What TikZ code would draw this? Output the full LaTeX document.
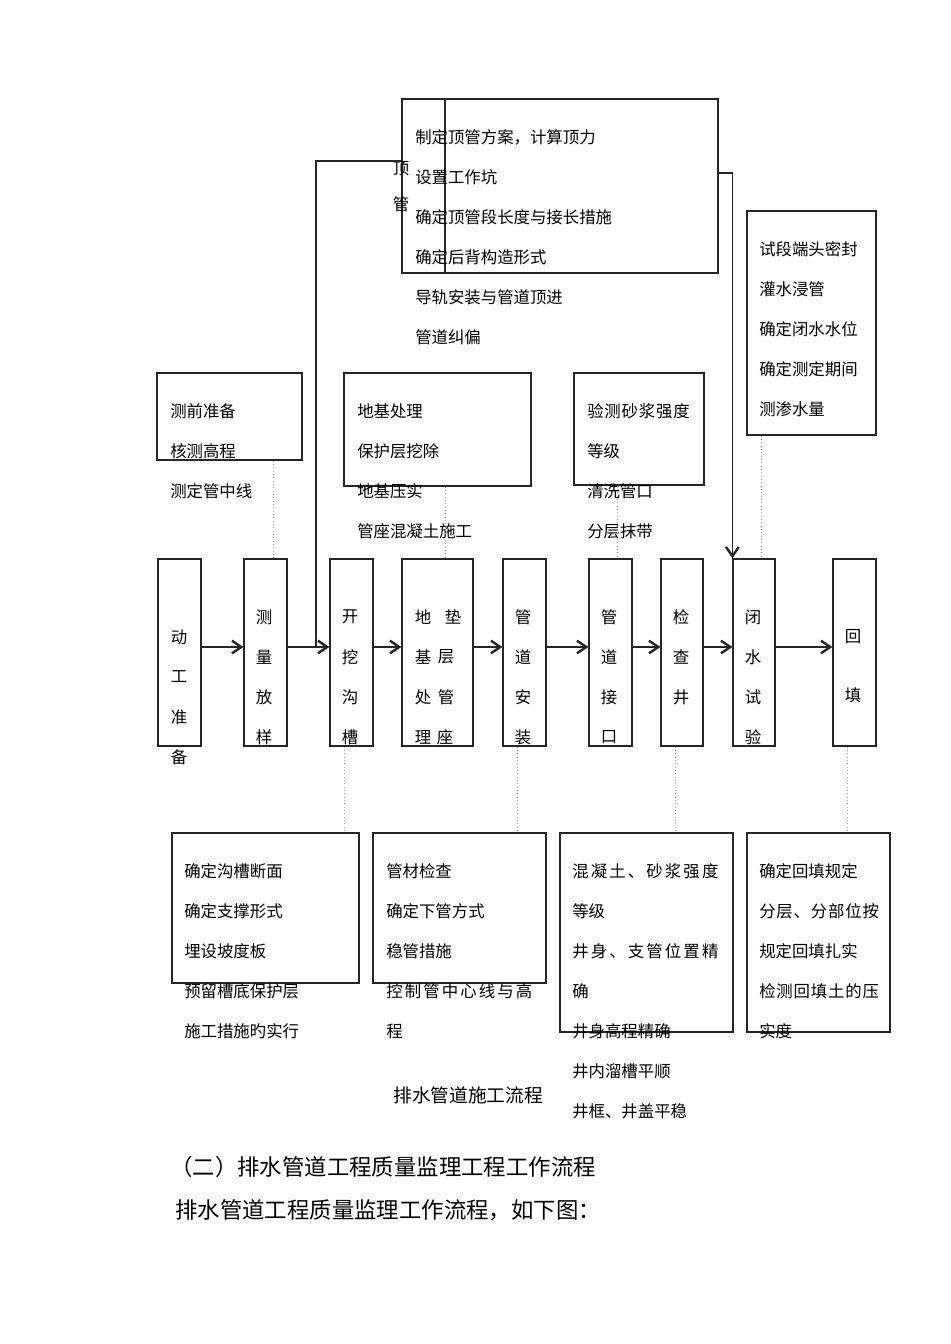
\documentclass[tikz,border=0pt]{standalone}
\usepackage{fontspec}
\setmainfont{Noto Sans CJK SC}
\newfontfamily\cjksp[LetterSpace=13]{Noto Sans CJK SC}
\newfontfamily\cjkspb[LetterSpace=5]{Noto Sans CJK SC}
\usetikzlibrary{fit,arrows.meta}
\tikzset{
  box/.style={draw=black!85, line width=0.9pt, inner sep=0pt},
  ln/.style={draw=black!85, line width=0.9pt},
  arr/.style={draw=black!85, line width=0.9pt, -{Straight Barb[length=7pt,width=9.5pt,line width=1.8pt]}},
  dot/.style={draw=gray!70, dotted, line width=0.5pt},
  txt/.style={anchor=west, inner sep=0pt, font=\fontsize{12.3pt}{14pt}\selectfont},
  ch/.style={inner sep=0pt, font=\fontsize{12.3pt}{14pt}\selectfont},
  bigtxt/.style={anchor=west, inner sep=0pt, font=\fontsize{16.8pt}{19pt}\selectfont},
  captxt/.style={inner sep=0pt, font=\fontsize{14pt}{16pt}\selectfont},
}
\begin{document}
\begin{tikzpicture}[x=0.75pt, y=-0.75pt]
\useasboundingbox (0,0) rectangle (950,1344);
\fill[white] (0,0) rectangle (950,1344);

% ---------- main row of boxes ----------
\node[box, fit={(158,559) (201,746)}] (m1) {};
\node[box, fit={(244,559) (287,746)}] (m2) {};
\node[box, fit={(330,559) (373,746)}] (m3) {};
\node[box, fit={(402,559) (473,746)}] (m4) {};
\node[box, fit={(503,559) (546,746)}] (m5) {};
\node[box, fit={(589,559) (632,746)}] (m6) {};
\node[box, fit={(661,559) (703,746)}] (m7) {};
\node[box, fit={(733,559) (775,746)}] (m8) {};
\node[box, fit={(833,559) (876,746)}] (m9) {};

% vertical texts
\node[ch] (m1a) at (179,637) {动};
\node[ch] (m1b) at (179,677) {工};
\node[ch] (m1c) at (179,717) {准};
\node[ch] (m1d) at (179,757) {备};

\node[ch] (m2a) at (264,617) {测};
\node[ch] (m2b) at (264,657) {量};
\node[ch] (m2c) at (264,697) {放};
\node[ch] (m2d) at (264,737) {样};

\node[ch] (m3a) at (350,617) {开};
\node[ch] (m3b) at (350,657) {挖};
\node[ch] (m3c) at (350,697) {沟};
\node[ch] (m3d) at (350,737) {槽};

\node[ch] (m4a) at (423,617) {地};
\node[ch] (m4b) at (423,657) {基};
\node[ch] (m4c) at (423,697) {处};
\node[ch] (m4d) at (423,737) {理};
\node[ch] (m4e) at (453,617) {垫};
\node[ch] (m4f) at (446,657) {层};
\node[ch] (m4g) at (446,697) {管};
\node[ch] (m4h) at (445,737) {座};

\node[ch] (m5a) at (523,617) {管};
\node[ch] (m5b) at (523,657) {道};
\node[ch] (m5c) at (523,697) {安};
\node[ch] (m5d) at (523,737) {装};

\node[ch] (m6a) at (609,617) {管};
\node[ch] (m6b) at (609,657) {道};
\node[ch] (m6c) at (609,697) {接};
\node[ch] (m6d) at (609,737) {口};

\node[ch] (m7a) at (681,617) {检};
\node[ch] (m7b) at (681,657) {查};
\node[ch] (m7c) at (681,697) {井};

\node[ch] (m8a) at (753,617) {闭};
\node[ch] (m8b) at (753,657) {水};
\node[ch] (m8c) at (753,697) {试};
\node[ch] (m8d) at (753,737) {验};

\node[ch] (m9a) at (853,637) {回};
\node[ch] (m9b) at (853,695) {填};

% ---------- arrows of the main row ----------
\coordinate (ay) at (0,647);
\coordinate (lt) at (316,161);
\draw[arr] (m1.east |- ay) -- (m2.west |- ay);
\draw[arr] (m2.east |- ay) -- (m3.west |- ay);
\draw[arr] (m3.east |- ay) -- (m4.west |- ay);
\draw[arr] (m4.east |- ay) -- (m5.west |- ay);
\draw[arr] (m5.east |- ay) -- (m6.west |- ay);
\draw[arr] (m6.east |- ay) -- (m7.west |- ay);
\draw[arr] (m7.east |- ay) -- (m8.west |- ay);
\draw[arr] (m8.east |- ay) -- (m9.west |- ay);

% ---------- top box (顶管) ----------
\node[box, fit={(402,99) (718,273)}] (top) {};
\coordinate (v1) at (445,0);
\draw[ln] (top.north -| v1) -- (top.south -| v1);
\node[ch] (tpa) at (401,169) {顶};
\node[ch] (tpb) at (401,204) {管};
\node[txt] (t1) at (415,137) {制定顶管方案，计算顶力};
\node[txt] (t2) at (415,177) {设置工作坑};
\node[txt] (t3) at (415,217) {确定顶管段长度与接长措施};
\node[txt] (t4) at (415,257) {确定后背构造形式};
\node[txt] (t5) at (415,297) {导轨安装与管道顶进};
\node[txt] (t6) at (415,337) {管道纠偏};

\draw[ln] (top.west |- lt) -- (lt) -- (lt |- ay);
\coordinate (rt) at (0,173);
\draw[arr] (top.east |- rt) -| (m8.north west);

% ---------- upper boxes ----------
\node[box, fit={(157,373) (302,460)}] (u1) {};
\node[txt] (u1a) at (170,411) {测前准备};
\node[txt] (u1b) at (170,451) {核测高程};
\node[txt] (u1c) at (170,491) {测定管中线};

\node[box, fit={(344,373) (531,486)}] (u2) {};
\node[txt] (u2a) at (357,411) {地基处理};
\node[txt] (u2b) at (357,451) {保护层挖除};
\node[txt] (u2c) at (357,491) {地基压实};
\node[txt] (u2d) at (357,531) {管座混凝土施工};

\node[box, fit={(574,373) (704,485)}] (u3) {};
\node[txt, font=\fontsize{12.3pt}{14pt}\cjkspb] (u3a) at (587,411) {验测砂浆强度};
\node[txt] (u3b) at (587,451) {等级};
\node[txt] (u3c) at (587,491) {清洗管口};
\node[txt] (u3d) at (587,531) {分层抹带};

\node[box, fit={(747,211) (876,435)}] (u4) {};
\node[txt] (u4a) at (759,249) {试段端头密封};
\node[txt] (u4b) at (759,289) {灌水浸管};
\node[txt] (u4c) at (759,329) {确定闭水水位};
\node[txt] (u4d) at (759,369) {确定测定期间};
\node[txt] (u4e) at (759,409) {测渗水量};

% dotted links (upper)
\coordinate (d1) at (273,0);
\coordinate (d2) at (445,0);
\coordinate (d3) at (617,0);
\coordinate (d4) at (761,0);
\draw[dot] (u1.south -| d1) -- (m2.north -| d1);
\draw[dot] (u2.south -| d2) -- (m4.north -| d2);
\draw[dot] (u3.south -| d3) -- (m6.north -| d3);
\draw[dot] (u4.south -| d4) -- (m8.north -| d4);

% ---------- lower boxes ----------
\node[box, fit={(172,833) (359,983)}] (l1) {};
\node[txt] (l1a) at (184,871) {确定沟槽断面};
\node[txt] (l1b) at (184,911) {确定支撑形式};
\node[txt] (l1c) at (184,951) {埋设坡度板};
\node[txt] (l1d) at (184,991) {预留槽底保护层};
\node[txt] (l1e) at (184,1031) {施工措施旳实行};

\node[box, fit={(373,833) (546,983)}] (l2) {};
\node[txt] (l2a) at (386,871) {管材检查};
\node[txt] (l2b) at (386,911) {确定下管方式};
\node[txt] (l2c) at (386,951) {稳管措施};
\node[txt, font=\fontsize{12.3pt}{14pt}\cjksp] (l2d) at (386,991) {控制管中心线与高};
\node[txt] (l2e) at (386,1031) {程};

\node[box, fit={(560,833) (733,1032)}] (l3) {};
\node[txt, font=\fontsize{12.3pt}{14pt}\cjksp] (l3a) at (572,871) {混凝土、砂浆强度};
\node[txt] (l3b) at (572,911) {等级};
\node[txt, font=\fontsize{12.3pt}{14pt}\cjksp] (l3c) at (572,951) {井身、支管位置精};
\node[txt] (l3d) at (572,991) {确};
\node[txt] (l3e) at (572,1031) {井身高程精确};
\node[txt] (l3f) at (572,1071) {井内溜槽平顺};
\node[txt] (l3g) at (572,1111) {井框、井盖平稳};

\node[box, fit={(747,833) (890,1032)}] (l4) {};
\node[txt] (l4a) at (759,871) {确定回填规定};
\node[txt, font=\fontsize{12.3pt}{14pt}\cjkspb] (l4b) at (759,911) {分层、分部位按};
\node[txt] (l4c) at (759,951) {规定回填扎实};
\node[txt, font=\fontsize{12.3pt}{14pt}\cjkspb] (l4d) at (759,991) {检测回填土的压};
\node[txt] (l4e) at (759,1031) {实度};

% dotted links (lower)
\coordinate (e1) at (344,0);
\coordinate (e2) at (517,0);
\coordinate (e3) at (675,0);
\coordinate (e4) at (847,0);
\draw[dot] (m3.south -| e1) -- (l1.north -| e1);
\draw[dot] (m5.south -| e2) -- (l2.north -| e2);
\draw[dot] (m7.south -| e3) -- (l3.north -| e3);
\draw[dot] (m9.south -| e4) -- (l4.north -| e4);

% ---------- captions ----------
\node[captxt] (caption) at (468,1095) {排水管道施工流程};
\node[bigtxt] (h1) at (170,1167) {（二）排水管道工程质量监理工程工作流程};
\node[bigtxt] (h2) at (175,1210) {排水管道工程质量监理工作流程，如下图：};
\end{tikzpicture}
\end{document}
